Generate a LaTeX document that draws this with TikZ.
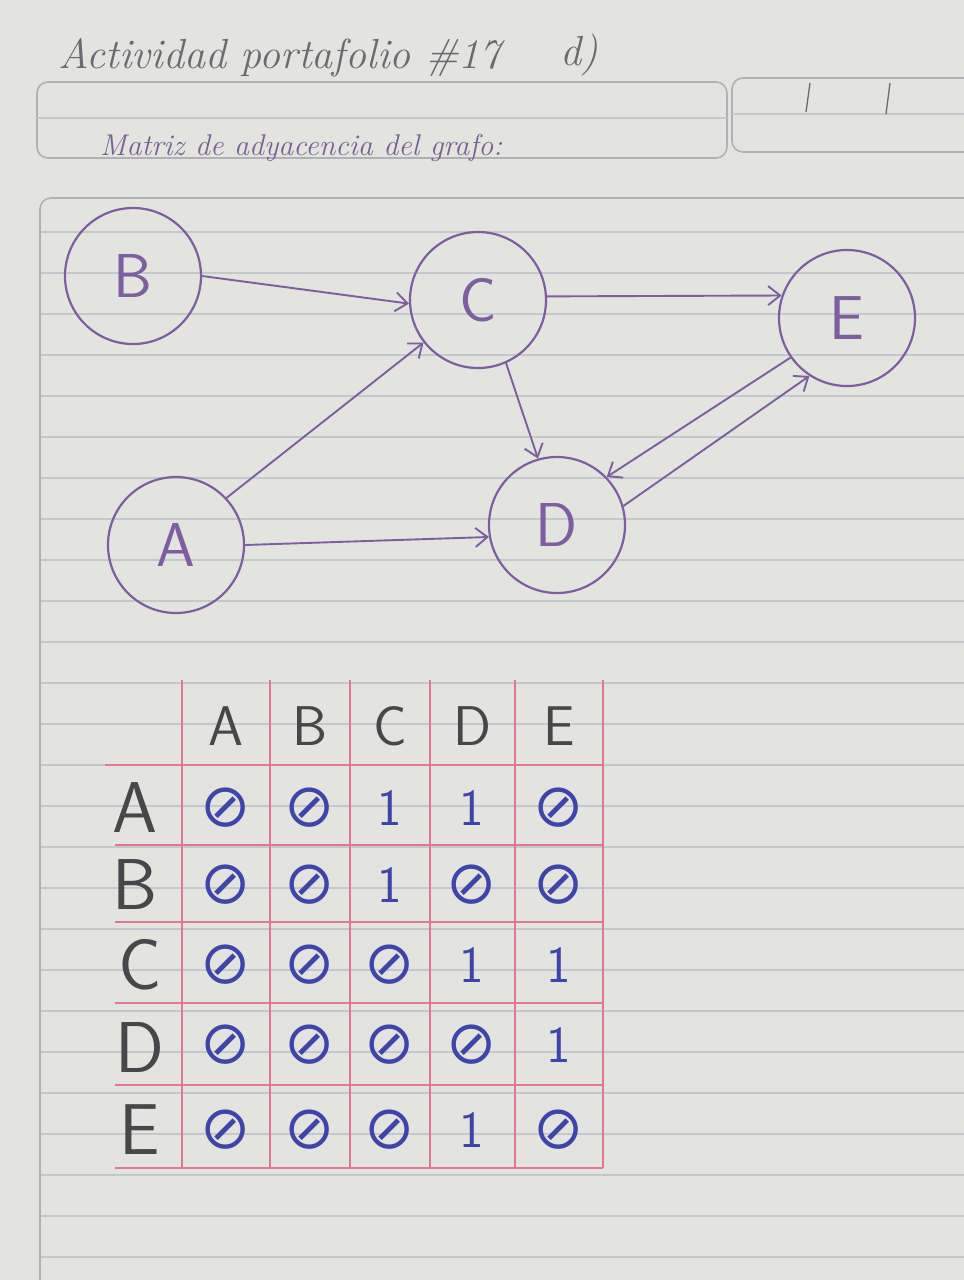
\documentclass[tikz,border=0pt]{standalone}
\usepackage{fontspec}
\newfontfamily\symfont{DejaVu Sans}
\usetikzlibrary{arrows.meta}
\definecolor{paper}{HTML}{E3E3DF}
\definecolor{ruleline}{HTML}{C4C7CC}
\definecolor{boxline}{HTML}{AEB1B6}
\definecolor{ink}{HTML}{7D5FA0}
\definecolor{pencil}{HTML}{6A6A70}
\definecolor{blueink}{HTML}{3F44A8}
\definecolor{redline}{HTML}{E27890}
\definecolor{dark}{HTML}{47474A}
\tikzset{
  gnode/.style={circle, draw=ink, line width=2.2pt, minimum size=136pt, inner sep=0pt,
    text=ink, font=\sffamily\fontsize{62}{62}\selectfont},
  gedge/.style={draw=ink, line width=1.9pt, -{Straight Barb[length=12pt,width=19pt,line width=1.9pt]}},
  hdr/.style={text=dark, font=\sffamily\fontsize{56}{56}\selectfont, inner sep=0pt},
  rowlab/.style={text=dark, font=\sffamily\fontsize{72}{72}\selectfont, inner sep=0pt},
  zero/.style={text=blueink, font=\symfont\fontsize{60}{60}\selectfont, inner sep=0pt},
  one/.style={text=blueink, font=\sffamily\fontsize{52}{52}\selectfont, inner sep=0pt},
  grid/.style={draw=redline, line width=1.7pt},
  rl/.style={draw=ruleline, line width=1.4pt},
  bx/.style={draw=boxline, line width=1.6pt, rounded corners=11pt}
}
\begin{document}
\begin{tikzpicture}[x=1pt,y=-1pt]
\fill[paper] (0,0) rectangle (964,1280);
\useasboundingbox (0,0) rectangle (964,1280);
% ruled lines
\foreach \k in {0,...,25}{
  \draw[rl] (41,232+41*\k) -- (964,232+41*\k);
}
% header boxes
\draw[bx] (37,82) rectangle (727,158);
\draw[rl] (37,118) -- (727,118);
\draw[bx] (732,78) rectangle (1010,152);
\draw[rl] (732,114) -- (964,114);
\draw[draw=pencil, line width=1.3pt] (810,83) -- (806,112);
\draw[draw=pencil, line width=1.3pt] (890,83) -- (886,114);
% main box
\draw[bx] (40,1300) -- (40,198) -- (1010,198);
% title
\node[text=pencil, font=\itshape\fontsize{42}{42}\selectfont, anchor=west, inner sep=0pt] (title) at (58,58) {Actividad portafolio \#17};
\node[text=pencil, font=\itshape\fontsize{42}{42}\selectfont, anchor=west, inner sep=0pt] (part) at (560,55) {d)};
\node[text=ink!70!pencil, font=\itshape\fontsize{30}{30}\selectfont, anchor=west, inner sep=0pt] (sub) at (100,148) {Matriz de adyacencia del grafo:};
% graph
\node[gnode] (B) at (133,276) {B};
\node[gnode] (C) at (478,300) {C};
\node[gnode] (E) at (847,318) {E};
\node[gnode] (A) at (176,545) {A};
\node[gnode] (D) at (557,525) {D};
\draw[gedge] (B.0) -- (C.183);
\draw[gedge] (C.3) -- (E.161);
\draw[gedge] (A.43) -- (C.218);
\draw[gedge] (A.0) -- (D.190);
\draw[gedge] (C.294) -- (D.106);
\draw[gedge] (E.215) -- (D.44);
\draw[gedge] (D.16) -- (E.237);
% table grid
\foreach \x in {182,270,350,430,515,603}{
  \draw[grid] (\x,680) -- (\x,1168);
}
\draw[grid] (105,765) -- (603,765);
\foreach \y in {845,922,1003,1085,1168}{
  \draw[grid] (115,\y) -- (603,\y);
}
% headers
\node[hdr] (hA) at (226,726) {A};
\node[hdr] (hB) at (310,726) {B};
\node[hdr] (hC) at (390,726) {C};
\node[hdr] (hD) at (472,726) {D};
\node[hdr] (hE) at (559,726) {E};
\node[rowlab] (rA) at (135,808) {A};
\node[rowlab] (rB) at (135,885) {B};
\node[rowlab] (rC) at (140,965) {C};
\node[rowlab] (rD) at (140,1048) {D};
\node[rowlab] (rE) at (140,1130) {E};
% entries
\foreach \r/\y/\vals in {A/808/{0,0,1,1,0}, B/885/{0,0,1,0,0}, C/965/{0,0,0,1,1}, D/1045/{0,0,0,0,1}, E/1130/{0,0,0,1,0}}{
  \foreach \v [count=\c] in \vals {
    \pgfmathsetmacro{\xx}{{226,310,390,472,559}[\c-1]}
    \ifnum\v=1
      \node[one] (m\r\c) at (\xx,\y) {1};
    \else
      \node[zero] (m\r\c) at (\xx,\y) {⊘};
    \fi
  }
}
\end{tikzpicture}
\end{document}
